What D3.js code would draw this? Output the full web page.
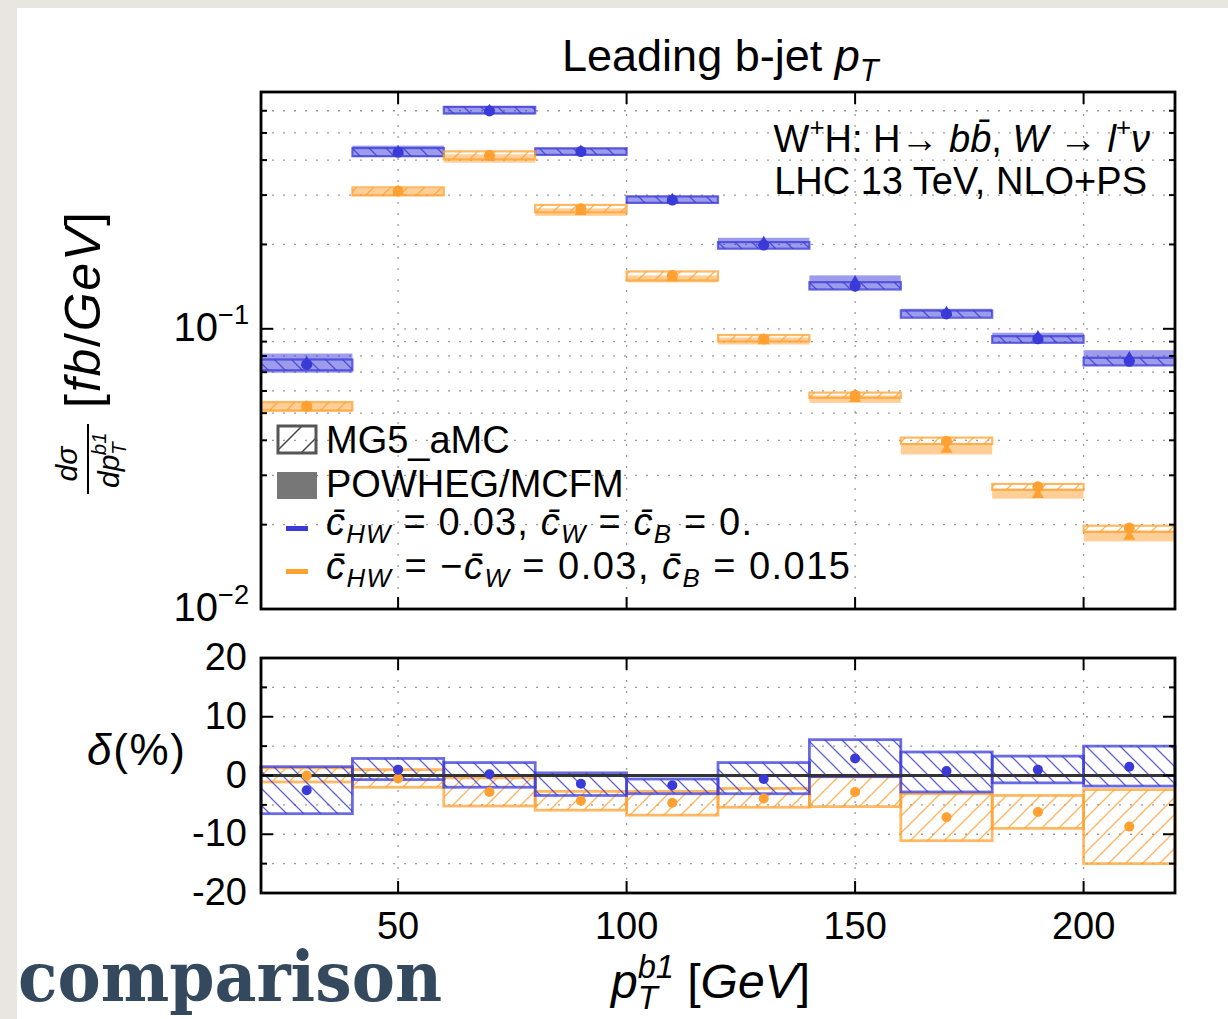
<!DOCTYPE html>
<html>
<head>
<meta charset="utf-8">
<script src="https://cdn.jsdelivr.net/npm/d3@7"></script>
<style>
  html, body { margin: 0; padding: 0; background: #e9e6e1; }
  svg { display: block; }
  text { white-space: pre; }
</style>
</head>
<body>
<div id="chart"></div>
<script>
// bins of leading b-jet pT
const binLo = [20, 40, 60, 80, 100, 120, 140, 160, 180, 200];
const binHi = [40, 60, 80, 100, 120, 140, 160, 180, 200, 220];
const binMid = [30, 50, 70, 90, 110, 130, 150, 170, 190, 210];

// cHW = 0.03, cW = cB = 0 (blue)
const blueMg5 = [0.0746, 0.427, 0.599, 0.429, 0.288, 0.199, 0.142, 0.113, 0.0921, 0.0766];
const blueMg5Lo = [0.0711, 0.413, 0.587, 0.4175, 0.2814, 0.1931, 0.1381, 0.1095, 0.0891, 0.074];
const blueMg5Hi = [0.0777, 0.4416, 0.6196, 0.4405, 0.2968, 0.2039, 0.1467, 0.1162, 0.0941, 0.0788];
const bluePw = [0.0758, 0.429, 0.601, 0.43, 0.289, 0.203, 0.147, 0.1143, 0.0936, 0.0788];
const bluePwLo = [0.0697, 0.4101, 0.5826, 0.416, 0.2803, 0.1931, 0.1381, 0.1098, 0.0891, 0.074];
const bluePwHi = [0.0816, 0.4504, 0.6237, 0.443, 0.2986, 0.2113, 0.1551, 0.1179, 0.0968, 0.0839];

// cHW = -cW = 0.03, cB = 0.015 (orange)
const orangeMg5 = [0.0529, 0.31, 0.416, 0.268, 0.155, 0.092, 0.0578, 0.0397, 0.0273, 0.01946];
const orangeMg5Lo = [0.0511, 0.2993, 0.4024, 0.2603, 0.1488, 0.0901, 0.0567, 0.0388, 0.02662, 0.01885];
const orangeMg5Hi = [0.0548, 0.3197, 0.4298, 0.2768, 0.1602, 0.095, 0.0592, 0.0409, 0.02795, 0.01983];
const orangePw = [0.0527, 0.309, 0.41, 0.262, 0.152, 0.0905, 0.0564, 0.0371, 0.0256, 0.01816];
const orangePwLo = [0.0506, 0.2975, 0.3916, 0.2529, 0.1464, 0.0879, 0.0544, 0.0356, 0.02476, 0.01743];
const orangePwHi = [0.0545, 0.3171, 0.4193, 0.269, 0.1551, 0.0931, 0.0578, 0.039, 0.02688, 0.01904];

// ratio panel delta(%)
const blueDelta = [-2.5, 1.0, 0.2, -1.4, -1.65, -0.6, 2.9, 0.75, 1.0, 1.5];
const blueDeltaLo = [-6.5, -0.7, -2.0, -3.4, -3.1, -3.1, -0.2, -2.8, -1.25, -1.8];
const blueDeltaHi = [1.5, 2.9, 2.2, 0.45, -0.6, 2.2, 6.1, 4.0, 3.3, 5.0];
const orangeDelta = [0.0, -0.5, -2.8, -4.3, -4.65, -3.9, -2.8, -7.1, -6.2, -8.7];
const orangeDeltaLo = [-1.1, -2.0, -5.2, -5.9, -6.75, -5.4, -5.3, -11.1, -9.0, -15.0];
const orangeDeltaHi = [1.3, 1.0, -0.4, -2.7, -2.7, -2.2, -0.2, -3.1, -3.4, -2.4];

// ticks
const xTicks = [50, 100, 150, 200];
const yTopMajor = [0.01, 0.1];
const yTopMinor = [0.02, 0.03, 0.04, 0.05, 0.06, 0.07, 0.08, 0.09, 0.2, 0.3, 0.4, 0.5, 0.6];
const yBotMajor = [-20, -10, 0, 10, 20];
const yBotMinor = [-15, -5, 5, 15];

const W = 1228, H = 1019;
const SANS = "'Liberation Sans', Arial, Helvetica, sans-serif";
const BLUE = "#3a3ad8";
const ORANGE = "#ffa030";

const x = d3.scaleLinear().domain([20, 220]).range([261, 1175]);
const yTop = d3.scaleLog().domain([0.01, 0.7]).range([609, 92]);
const yBot = d3.scaleLinear().domain([-20, 20]).range([893, 658]);

const svg = d3.select("#chart").append("svg")
  .attr("width", W).attr("height", H);

// slide background
svg.append("rect").attr("width", W).attr("height", H).attr("fill", "#e9e6e1");
svg.append("rect").attr("x", 17).attr("y", 8).attr("width", W - 17).attr("height", H - 8).attr("fill", "#fff");

// hatch patterns
const defs = svg.append("defs");
function hatch(id, color, size, back, width, opacity) {
  const p = defs.append("pattern").attr("id", id)
    .attr("patternUnits", "userSpaceOnUse").attr("width", size).attr("height", size);
  const d = back
    ? `M-4,-4 L${size + 4},${size + 4} M-4,${size - 4} L4,${size + 4} M${size - 4},-4 L${size + 4},4`
    : `M-4,${size + 4} L${size + 4},-4 M-4,4 L4,-4 M${size - 4},${size + 4} L${size + 4},${size - 4}`;
  p.append("path").attr("d", d).attr("stroke", color).attr("stroke-width", width)
    .attr("stroke-opacity", opacity).attr("fill", "none");
}
hatch("hBlue", BLUE, 17, true, 1.3, 0.8);
hatch("hOrange", ORANGE, 17, false, 1.3, 0.8);
hatch("hGrey", "#444", 26, false, 1.5, 1);

// rich text with italic / sub / sup parts
function richText(parent, px, py, parts, size, anchor) {
  const t = parent.append("text")
    .attr("x", px).attr("y", py)
    .attr("font-family", SANS).attr("font-size", size)
    .attr("text-anchor", anchor || "start").attr("fill", "#000");
  let shift = 0;
  parts.forEach(p => {
    const s = p.sub ? 0.22 * size : p.sup ? -0.42 * size : 0;
    const ts = t.append("tspan").attr("dy", s - shift).text(p.t);
    shift = s;
    if (p.sub || p.sup) ts.attr("font-size", size * 0.68);
    if (p.i) ts.attr("font-style", "italic");
    if (p.dx) ts.attr("dx", p.dx);
  });
  return t;
}

// ---------- grids ----------
const grid = svg.append("g")
  .attr("stroke", "#9a9a9a").attr("stroke-width", 1.3).attr("stroke-dasharray", "2,9");
grid.selectAll(".gty").data(yTopMinor.concat([0.1])).join("line")
  .attr("x1", x(20)).attr("x2", x(220))
  .attr("y1", d => yTop(d)).attr("y2", d => yTop(d));
grid.selectAll(".gtx").data(xTicks).join("line")
  .attr("x1", d => x(d)).attr("x2", d => x(d))
  .attr("y1", yTop.range()[1]).attr("y2", yTop.range()[0]);
grid.selectAll(".gby").data([-15, -10, -5, 5, 10, 15]).join("line")
  .attr("x1", x(20)).attr("x2", x(220))
  .attr("y1", d => yBot(d)).attr("y2", d => yBot(d));
grid.selectAll(".gbx").data(xTicks).join("line")
  .attr("x1", d => x(d)).attr("x2", d => x(d))
  .attr("y1", yBot.range()[1]).attr("y2", yBot.range()[0]);

// ---------- top panel ----------
const idx = d3.range(binMid.length);
function drawTop(color, hatchId, mg5, mg5Lo, mg5Hi, pw, pwLo, pwHi) {
  const g = svg.append("g");
  g.selectAll("rect.pw").data(idx).join("rect")
    .attr("x", i => x(binLo[i])).attr("width", i => x(binHi[i]) - x(binLo[i]))
    .attr("y", i => yTop(pwHi[i])).attr("height", i => yTop(pwLo[i]) - yTop(pwHi[i]))
    .attr("fill", color).attr("fill-opacity", 0.5);
  g.selectAll("rect.mg").data(idx).join("rect")
    .attr("x", i => x(binLo[i])).attr("width", i => x(binHi[i]) - x(binLo[i]))
    .attr("y", i => yTop(mg5Hi[i])).attr("height", i => yTop(mg5Lo[i]) - yTop(mg5Hi[i]))
    .attr("fill", `url(#${hatchId})`)
    .attr("stroke", color).attr("stroke-opacity", 0.75).attr("stroke-width", 2.2);
  g.selectAll("path.tri").data(idx).join("path")
    .attr("d", d3.symbol(d3.symbolTriangle, 60))
    .attr("transform", i => `translate(${x(binMid[i])},${yTop(pw[i])})`)
    .attr("fill", color);
  g.selectAll("circle").data(idx).join("circle")
    .attr("cx", i => x(binMid[i])).attr("cy", i => yTop(mg5[i])).attr("r", 5.5)
    .attr("fill", color);
}
drawTop(BLUE, "hBlue", blueMg5, blueMg5Lo, blueMg5Hi, bluePw, bluePwLo, bluePwHi);
drawTop(ORANGE, "hOrange", orangeMg5, orangeMg5Lo, orangeMg5Hi, orangePw, orangePwLo, orangePwHi);

// ---------- bottom panel ----------
function drawBot(color, hatchId, lo, hi) {
  svg.append("g").selectAll("rect").data(idx).join("rect")
    .attr("x", i => x(binLo[i])).attr("width", i => x(binHi[i]) - x(binLo[i]))
    .attr("y", i => yBot(hi[i])).attr("height", i => yBot(lo[i]) - yBot(hi[i]))
    .attr("fill", `url(#${hatchId})`)
    .attr("stroke", color).attr("stroke-opacity", 0.75).attr("stroke-width", 2.8);
}
drawBot(ORANGE, "hOrange", orangeDeltaLo, orangeDeltaHi);
drawBot(BLUE, "hBlue", blueDeltaLo, blueDeltaHi);

svg.append("line")
  .attr("x1", x(20)).attr("x2", x(220)).attr("y1", yBot(0)).attr("y2", yBot(0))
  .attr("stroke", "#333").attr("stroke-width", 3);

[[orangeDelta, ORANGE], [blueDelta, BLUE]].forEach(([vals, color]) => {
  svg.append("g").selectAll("circle").data(idx).join("circle")
    .attr("cx", i => x(binMid[i])).attr("cy", i => yBot(vals[i])).attr("r", 5)
    .attr("fill", color);
});

// ---------- frames and ticks ----------
function frame(y0, y1) {
  svg.append("rect").attr("x", x(20)).attr("y", y0)
    .attr("width", x(220) - x(20)).attr("height", y1 - y0)
    .attr("fill", "none").attr("stroke", "#000").attr("stroke-width", 2.8);
  const t = svg.append("g").attr("stroke", "#000").attr("stroke-width", 2);
  xTicks.forEach(v => {
    t.append("line").attr("x1", x(v)).attr("x2", x(v)).attr("y1", y0).attr("y2", y0 + 12);
    t.append("line").attr("x1", x(v)).attr("x2", x(v)).attr("y1", y1).attr("y2", y1 - 12);
  });
  return t;
}
const tTop = frame(yTop.range()[1], yTop.range()[0]);
yTopMajor.concat(yTopMinor).forEach(v => {
  const len = yTopMajor.includes(v) ? 12 : 6;
  tTop.append("line").attr("x1", x(20)).attr("x2", x(20) + len).attr("y1", yTop(v)).attr("y2", yTop(v));
  tTop.append("line").attr("x1", x(220)).attr("x2", x(220) - len).attr("y1", yTop(v)).attr("y2", yTop(v));
});
const tBot = frame(yBot.range()[1], yBot.range()[0]);
yBotMajor.concat(yBotMinor).forEach(v => {
  const len = yBotMajor.includes(v) ? 12 : 6;
  tBot.append("line").attr("x1", x(20)).attr("x2", x(20) + len).attr("y1", yBot(v)).attr("y2", yBot(v));
  tBot.append("line").attr("x1", x(220)).attr("x2", x(220) - len).attr("y1", yBot(v)).attr("y2", yBot(v));
});

// tick labels
yTopMajor.forEach(v => {
  richText(svg, 249, yTop(v) + 12,
    [{ t: "10" }, { t: "\u2212" + (-Math.round(Math.log10(v))), sup: true }], 40, "end");
});
yBotMajor.forEach(v => {
  svg.append("text").attr("x", 247).attr("y", yBot(v) + 12)
    .attr("font-family", SANS).attr("font-size", 38).attr("text-anchor", "end")
    .text(v);
});
xTicks.forEach(v => {
  svg.append("text").attr("x", x(v)).attr("y", 939)
    .attr("font-family", SANS).attr("font-size", 38).attr("text-anchor", "middle")
    .text(v);
});

// ---------- texts ----------
richText(svg, 562, 71, [{ t: "Leading b-jet " }, { t: "p", i: true }, { t: "T", i: true, sub: true }], 45);

richText(svg, 1150, 152, [
  { t: "W" }, { t: "+", sup: true }, { t: "H: H\u2192 " }, { t: "b", i: true }, { t: "b\u0304", i: true },
  { t: ", " }, { t: "W", i: true }, { t: " \u2192 " }, { t: "l", i: true }, { t: "+", sup: true }, { t: "\u03bd", i: true }
], 38, "end");
richText(svg, 1147, 194, [{ t: "LHC 13 TeV, NLO+PS" }], 38, "end");

// legend
svg.append("rect").attr("x", 278).attr("y", 426).attr("width", 38).attr("height", 27)
  .attr("fill", "url(#hGrey)").attr("stroke", "#555").attr("stroke-width", 3);
svg.append("rect").attr("x", 277).attr("y", 472).attr("width", 40).attr("height", 27)
  .attr("fill", "#777");
svg.append("rect").attr("x", 286).attr("y", 526).attr("width", 22).attr("height", 5).attr("fill", BLUE);
svg.append("rect").attr("x", 286).attr("y", 569).attr("width", 22).attr("height", 5).attr("fill", ORANGE);
richText(svg, 326, 453, [{ t: "MG5_aMC" }], 38);
richText(svg, 326, 497, [{ t: "POWHEG/MCFM" }], 38);
const cb = { t: "c\u0304", i: true };
richText(svg, 326, 535, [
  cb, { t: "HW", i: true, sub: true }, { t: " = 0.03, " }, cb, { t: "W", i: true, sub: true },
  { t: " = " }, cb, { t: "B", i: true, sub: true }, { t: " = 0." }
], 38).attr("textLength", 426).attr("lengthAdjust", "spacing");
richText(svg, 326, 579, [
  cb, { t: "HW", i: true, sub: true }, { t: " = \u2212" }, cb, { t: "W", i: true, sub: true },
  { t: " = 0.03, " }, cb, { t: "B", i: true, sub: true }, { t: " = 0.015" }
], 38).attr("textLength", 524).attr("lengthAdjust", "spacing");

// y label of top panel (rotated)
const yl = svg.append("g").attr("transform", "translate(88,0) rotate(-90)");
yl.append("text").attr("x", -464).attr("y", -11).attr("text-anchor", "middle")
  .attr("font-family", SANS).attr("font-size", 30).attr("font-style", "italic").text("d\u03c3");
yl.append("line").attr("x1", -494).attr("x2", -424).attr("y1", 0).attr("y2", 0)
  .attr("stroke", "#000").attr("stroke-width", 2);
richText(yl, -488, 31, [{ t: "dp", i: true }, { t: "T", i: true, sub: true },
  { t: "b1", i: true, sup: true, dx: -13 }], 30);
richText(yl, -408, 12, [{ t: "[" }, { t: "fb", i: true }, { t: "/" }, { t: "GeV", i: true }, { t: "]" }], 50)
  .attr("textLength", 196).attr("lengthAdjust", "spacing");

// y label of ratio panel
richText(svg, 87, 765, [{ t: "\u03b4", i: true }, { t: "(%)" }], 44)
  .attr("textLength", 98).attr("lengthAdjust", "spacing");

// x label
richText(svg, 611, 998, [{ t: "p", i: true }, { t: "T", i: true, sub: true },
  { t: "b1", i: true, sup: true, dx: -20 }, { t: " [" }, { t: "GeV", i: true }, { t: "]" }], 48);

// slide caption
svg.append("text").attr("x", 18).attr("y", 1001)
  .attr("font-family", "'DejaVu Serif', serif").attr("font-weight", "bold")
  .attr("font-size", 70).attr("fill", "#34495e")
  .attr("textLength", 424).attr("lengthAdjust", "spacingAndGlyphs")
  .text("comparison");
</script>
</body>
</html>
